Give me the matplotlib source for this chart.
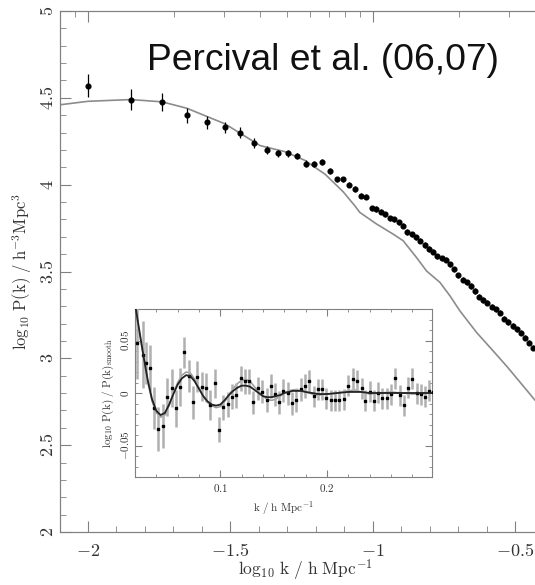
import numpy as np
import matplotlib
matplotlib.use('Agg')
import matplotlib.pyplot as plt
from matplotlib.ticker import MultipleLocator, FuncFormatter

plt.rcParams['mathtext.fontset'] = 'cm'

# main panel: measured power spectrum
logk = [-2.000, -1.849, -1.740, -1.653, -1.582, -1.519, -1.467, -1.418, -1.372, -1.333,
        -1.298, -1.267, -1.235, -1.207, -1.180, -1.150, -1.126, -1.105, -1.083, -1.063,
        -1.042, -1.025, -1.005, -0.989, -0.973, -0.958, -0.940, -0.925, -0.909, -0.896,
        -0.880, -0.864, -0.849, -0.835, -0.818, -0.802, -0.788, -0.774, -0.759, -0.744,
        -0.730, -0.716, -0.701, -0.685, -0.671, -0.656, -0.642, -0.627, -0.613, -0.599,
        -0.584, -0.568, -0.554, -0.540, -0.525, -0.510, -0.496, -0.482, -0.467, -0.452,
        -0.438]
logP = [4.570, 4.490, 4.477, 4.400, 4.360, 4.330, 4.300, 4.240, 4.200, 4.180,
        4.180, 4.165, 4.120, 4.120, 4.130, 4.080, 4.030, 4.030, 4.000, 3.975,
        3.937, 3.930, 3.864, 3.860, 3.844, 3.830, 3.806, 3.800, 3.783, 3.763,
        3.728, 3.715, 3.696, 3.677, 3.652, 3.629, 3.613, 3.587, 3.575, 3.567,
        3.542, 3.513, 3.479, 3.452, 3.437, 3.417, 3.388, 3.356, 3.336, 3.321,
        3.298, 3.282, 3.263, 3.229, 3.209, 3.186, 3.167, 3.148, 3.119, 3.090,
        3.061]
logP_err = [0.065, 0.060, 0.050, 0.043, 0.037, 0.032, 0.030, 0.027, 0.025, 0.022,
            0.020, 0.020, 0.020, 0.018, 0.018, 0.018, 0.017, 0.017, 0.016, 0.016,
            0.016, 0.015, 0.015, 0.015, 0.015, 0.015, 0.015, 0.015, 0.015, 0.015,
            0.015, 0.015, 0.015, 0.015, 0.015, 0.015, 0.015, 0.015, 0.015, 0.015,
            0.015, 0.015, 0.015, 0.015, 0.015, 0.015, 0.015, 0.015, 0.015, 0.015,
            0.015, 0.015, 0.015, 0.015, 0.015, 0.015, 0.015, 0.015, 0.015, 0.015,
            0.015]

# linear model curve
model_logk = [-2.098, -2.000, -1.850, -1.740, -1.653, -1.519, -1.396, -1.309, -1.239, -1.168,
              -1.105, -1.063, -1.046, -0.987, -0.929, -0.894, -0.847, -0.812, -0.765, -0.730,
              -0.695, -0.636, -0.578, -0.531, -0.432, -0.400]
model_logP = [4.460, 4.480, 4.490, 4.477, 4.440, 4.350, 4.225, 4.190, 4.140, 4.060,
              3.960, 3.877, 3.840, 3.773, 3.715, 3.677, 3.580, 3.503, 3.437, 3.360,
              3.273, 3.148, 3.042, 2.955, 2.760, 2.700]

# inset: BAO residuals
k_in = [0.0217, 0.0271, 0.0300, 0.0340, 0.0380, 0.0418, 0.0462, 0.0500, 0.0544, 0.0585,
        0.0626, 0.0663, 0.0705, 0.0745, 0.0783, 0.0824, 0.0865, 0.0906, 0.0946, 0.0984,
        0.1028, 0.1073, 0.1113, 0.1150, 0.1190, 0.1230, 0.1267, 0.1310, 0.1350, 0.1393,
        0.1434, 0.1475, 0.1512, 0.1554, 0.1592, 0.1632, 0.1673, 0.1710, 0.1752, 0.1792,
        0.1833, 0.1875, 0.1915, 0.1953, 0.1993, 0.2035, 0.2073, 0.2110, 0.2163, 0.2198,
        0.2242, 0.2283, 0.2324, 0.2361, 0.2403, 0.2440, 0.2481, 0.2519, 0.2560, 0.2600,
        0.2642, 0.2682, 0.2724, 0.2764, 0.2802, 0.2842, 0.2884, 0.2920, 0.2958, 0.2996]
y_in = [0.0480, 0.0365, 0.0285, 0.0240, -0.0147, -0.0340, -0.0310, -0.0035, 0.0045, -0.0147,
        0.0060, 0.0388, 0.0163, -0.0090, 0.0157, 0.0060, 0.0050, -0.0115, 0.0093, -0.0350,
        -0.0138, -0.0106, -0.0035, -0.0020, 0.0140, 0.0110, 0.0110, -0.0090, 0.0045, 0.0013,
        -0.0067, 0.0067, -0.0010, -0.0090, 0.0022, -0.0003, -0.0099, -0.0067, 0.0035, 0.0067,
        0.0110, -0.0030, 0.0035, 0.0035, -0.0050, -0.0067, -0.0067, -0.0067, -0.0058, 0.0067,
        0.0135, 0.0115, 0.0045, -0.0074, 0.0013, -0.0074, 0.0003, -0.0050, -0.0050, -0.0010,
        0.0140, -0.0020, -0.0115, 0.0050, 0.0135, -0.0003, -0.0013, -0.0035, 0.0022, 0.0013]
err_in = [0.035, 0.032, 0.020, 0.022, 0.020, 0.021, 0.021, 0.018, 0.018, 0.018,
          0.018, 0.015, 0.015, 0.016, 0.015, 0.014, 0.014, 0.014, 0.014, 0.012,
          0.012, 0.012, 0.012, 0.012, 0.012, 0.012, 0.012, 0.011, 0.011, 0.011,
          0.011, 0.011, 0.011, 0.011, 0.011, 0.011, 0.011, 0.011, 0.011, 0.011,
          0.011, 0.010, 0.010, 0.010, 0.010, 0.010, 0.010, 0.010, 0.010, 0.010,
          0.010, 0.010, 0.010, 0.010, 0.010, 0.010, 0.010, 0.010, 0.010, 0.010,
          0.010, 0.010, 0.010, 0.010, 0.010, 0.010, 0.010, 0.010, 0.010, 0.010]

k_sm = [0.020, 0.024, 0.028, 0.032, 0.036, 0.040, 0.044, 0.048, 0.052, 0.056,
        0.060, 0.064, 0.068, 0.072, 0.076, 0.080, 0.084, 0.088, 0.092, 0.096,
        0.100, 0.104, 0.108, 0.112, 0.116, 0.120, 0.124, 0.128, 0.132, 0.136,
        0.140, 0.144, 0.148, 0.152, 0.156, 0.160, 0.164, 0.168, 0.172, 0.176,
        0.180, 0.186, 0.192, 0.200, 0.210, 0.220, 0.226, 0.232, 0.240, 0.250,
        0.260, 0.270, 0.280, 0.300]
fit_black = [0.085, 0.060, 0.035, 0.012, -0.006, -0.017, -0.021, -0.019, -0.011, -0.001,
             0.008, 0.014, 0.017, 0.016, 0.011, 0.004, -0.003, -0.008, -0.011, -0.012,
             -0.011, -0.007, -0.002, 0.002, 0.005, 0.007, 0.007, 0.006, 0.003, 0.000,
             -0.003, -0.004, -0.004, -0.003, -0.002, 0.000, 0.001, 0.002, 0.002, 0.002,
             0.001, 0.000, -0.001, -0.001, 0.000, 0.001, 0.001, 0.001, 0.000, 0.000,
             0.000, 0.000, 0.000, 0.000]
fit_gray = [0.080, 0.058, 0.034, 0.010, -0.008, -0.019, -0.023, -0.021, -0.012, 0.000,
            0.010, 0.017, 0.020, 0.019, 0.013, 0.005, -0.003, -0.009, -0.012, -0.014,
            -0.013, -0.008, -0.002, 0.004, 0.009, 0.012, 0.013, 0.011, 0.006, 0.001,
            -0.003, -0.006, -0.007, -0.006, -0.003, 0.000, 0.002, 0.003, 0.003, 0.002,
            0.001, -0.001, -0.002, -0.001, 0.000, 0.002, 0.003, 0.001, -0.001, 0.000,
            0.001, 0.000, -0.001, 0.000]

top_major_k = [0.01, 0.1]
top_minor_k = [0.009, 0.02, 0.03, 0.04, 0.05, 0.06, 0.07, 0.08, 0.09, 0.2, 0.3]

spine_col = '#808080'
text_col = '#333333'


def mfmt(v, pos):
    v = round(v, 4) + 0.0
    return '$%g$' % v


W, H = 535, 585
fig = plt.figure(figsize=(W / 100, H / 100), dpi=100)

# main axes (right side is cut off by the figure edge, like the original)
ax = fig.add_axes([60 / W, 53 / H, 484 / W, 521 / H])
ax.plot(model_logk, model_logP, color='#8c8c8c', lw=1.2, zorder=2)
ax.errorbar(logk, logP, yerr=logP_err, fmt='o', color='k', ms=3.4,
            elinewidth=0.9, capsize=0, zorder=3)
ax.set_xlim(-2.098, -0.400)
ax.set_ylim(2, 5)
ax.xaxis.set_major_locator(MultipleLocator(0.5))
ax.xaxis.set_minor_locator(MultipleLocator(0.1))
ax.yaxis.set_major_locator(MultipleLocator(0.5))
ax.yaxis.set_minor_locator(MultipleLocator(0.1))
ax.xaxis.set_major_formatter(FuncFormatter(mfmt))
ax.yaxis.set_major_formatter(FuncFormatter(mfmt))
ax.tick_params(which='both', direction='in', color=spine_col, labelcolor=text_col,
               labelsize=13, top=False, right=False)
ax.tick_params(which='major', length=8)
ax.tick_params(which='minor', length=4)
ax.tick_params(axis='x', pad=7)
ax.tick_params(axis='y', labelrotation=90, pad=2)
for lab in ax.get_yticklabels():
    lab.set_va('center')
for s in ax.spines.values():
    s.set_color(spine_col)
ax.set_xlabel(r'$\log_{10}\,\mathrm{k\ /\ h\ Mpc^{-1}}$', fontsize=12.5, color=text_col,
              va='center')
ax.xaxis.set_label_coords(0.506, -0.074)
ax.set_ylabel(r'$\log_{10}\,\mathrm{P(k)\ /\ h^{-3}Mpc^{3}}$', fontsize=12, color=text_col,
              va='center')
ax.yaxis.set_label_coords(-0.078, 0.5)

# top axis: ticks at linear k values
ax_top = ax.twiny()
ax_top.set_xlim(ax.get_xlim())
ax_top.set_xticks(np.log10(top_major_k))
ax_top.set_xticks(np.log10(top_minor_k), minor=True)
ax_top.tick_params(which='both', direction='in', color=spine_col, labeltop=False)
ax_top.tick_params(which='major', length=8)
ax_top.tick_params(which='minor', length=4)
for s in ax_top.spines.values():
    s.set_color(spine_col)

fig.text(147 / W, 1 - 70 / H, 'Percival et al. (06,07)', fontfamily='Liberation Sans',
         fontsize=26.8, va='baseline', color='#111111')

# inset
axin = fig.add_axes([135 / W, 108 / H, 297 / W, 168 / H])
axin.errorbar(k_in, y_in, yerr=err_in, fmt='s', ms=1.7, color='k', ecolor='#b0b0b0',
              elinewidth=1.8, capsize=0, zorder=3)
axin.plot(k_sm, fit_gray, color='#9a9a9a', lw=1.1, zorder=2)
axin.plot(k_sm, fit_black, color='#222222', lw=1.3, zorder=4)
axin.set_xlim(0.02, 0.2985)
axin.set_ylim(-0.08, 0.08)
axin.xaxis.set_major_locator(MultipleLocator(0.1))
axin.xaxis.set_minor_locator(MultipleLocator(0.02))
axin.yaxis.set_major_locator(MultipleLocator(0.05))
axin.yaxis.set_minor_locator(MultipleLocator(0.01))
axin.xaxis.set_major_formatter(FuncFormatter(mfmt))
axin.yaxis.set_major_formatter(FuncFormatter(mfmt))
axin.tick_params(which='both', direction='in', color=spine_col, labelcolor=text_col,
                 labelsize=8, top=True, right=True)
axin.tick_params(which='major', length=5)
axin.tick_params(which='minor', length=2.5)
axin.tick_params(axis='y', labelrotation=90, pad=3)
for lab in axin.get_yticklabels():
    lab.set_va('center')
for s in axin.spines.values():
    s.set_color(spine_col)
axin.set_xlabel(r'$\mathrm{k\ /\ h\ Mpc^{-1}}$', fontsize=8, color=text_col, labelpad=4)
axin.set_ylabel(r'$\log_{10}\,\mathrm{P(k)\ /\ P(k)_{smooth}}$', fontsize=8, color=text_col,
                labelpad=2)

fig.savefig('out.png', dpi=100)
